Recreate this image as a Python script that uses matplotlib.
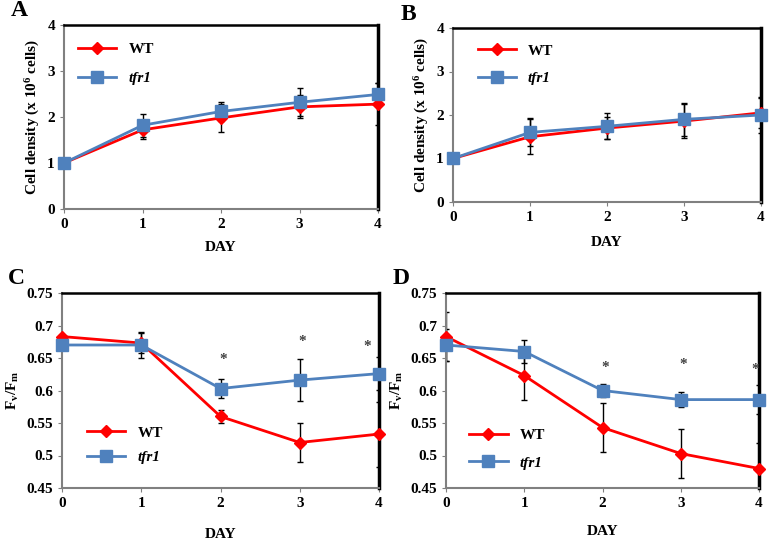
import matplotlib
matplotlib.use("Agg")
import matplotlib.pyplot as plt
import numpy as np

plt.rcParams['font.family'] = ['Liberation Serif', 'DejaVu Serif']
plt.rcParams['font.weight'] = 'bold'
plt.rcParams['axes.labelweight'] = 'bold'
plt.rcParams['mathtext.fontset'] = 'custom'
plt.rcParams['mathtext.rm'] = 'Liberation Serif:bold'
plt.rcParams['mathtext.it'] = 'Liberation Serif:italic:bold'
plt.rcParams['mathtext.bf'] = 'Liberation Serif:bold'

days = [0, 1, 2, 3, 4]

# panel A
a_wt = [1.0, 1.72, 1.98, 2.22, 2.28]
a_wt_err = [0.0, 0.2, 0.3, 0.25, 0.45]
a_tfr = [1.0, 1.82, 2.12, 2.32, 2.49]
a_tfr_err = [0.0, 0.25, 0.2, 0.3, 0.25]

# panel B
b_wt = [1.0, 1.5, 1.7, 1.86, 2.05]
b_wt_err = [0.0, 0.4, 0.25, 0.4, 0.35]
b_tfr = [1.0, 1.6, 1.74, 1.9, 2.0]
b_tfr_err = [0.0, 0.32, 0.3, 0.38, 0.42]

# panel C
c_wt = [0.683, 0.673, 0.56, 0.52, 0.533]
c_wt_err = [0.0, 0.016, 0.01, 0.03, 0.05]
c_tfr = [0.67, 0.67, 0.603, 0.616, 0.626]
c_tfr_err = [0.0, 0.02, 0.015, 0.032, 0.025]
c_star_x = [2.03, 3.03, 3.85]
c_star_y = [0.648, 0.675, 0.667]

# panel D
d_wt = [0.683, 0.623, 0.543, 0.503, 0.48]
d_wt_err = [0.038, 0.038, 0.038, 0.038, 0.04]
d_tfr = [0.67, 0.66, 0.6, 0.586, 0.586]
d_tfr_err = [0.025, 0.018, 0.01, 0.012, 0.022]
d_star_x = [2.03, 3.03, 3.95]
d_star_y = [0.635, 0.64, 0.632]

red = '#ff0000'
blue = '#4f81bd'

fig = plt.figure(figsize=(7.71, 5.40), dpi=100)
W, H = 771.0, 540.0

def mkax(l, r, t, b):
    return fig.add_axes([l / W, 1 - b / H, (r - l) / W, (b - t) / H])

axA = mkax(64, 378, 25, 209)
axB = mkax(453, 761, 28, 202)
axC = mkax(62, 379, 293, 488)
axD = mkax(446, 759, 293, 488)

def panel(ax, wt, wt_err, tfr, tfr_err, ylim, yticks, ylabel, leganchor, legspace, xpad, letter):
    ax.errorbar(days, wt, yerr=wt_err, fmt='none', ecolor='black', elinewidth=1, capsize=2.5, zorder=1)
    ax.errorbar(days, tfr, yerr=tfr_err, fmt='none', ecolor='black', elinewidth=1, capsize=2.5, zorder=1)
    ax.plot(days, wt, color=red, lw=2, marker='D', ms=6, mec=red, mfc=red, label='WT',
            zorder=3, clip_on=False)
    ax.plot(days, tfr, color=blue, lw=2, marker='s', ms=9, mec=blue, mfc=blue, label='tfr1',
            zorder=3, clip_on=False)
    ax.set_xlim(0, 4)
    ax.set_ylim(*ylim)
    ax.set_xticks(days)
    ax.set_yticks(yticks)
    ax.set_yticklabels([('%g' % v) for v in yticks])
    ax.tick_params(labelsize=11, length=3, color='#808080', direction='out')
    ax.spines['left'].set_color('#808080')
    ax.spines['bottom'].set_color('#808080')
    ax.spines['left'].set_linewidth(1.5)
    ax.spines['bottom'].set_linewidth(1.5)
    ax.spines['top'].set_linewidth(1.8)
    ax.spines['right'].set_linewidth(2.5)
    ax.set_xlabel('DAY', fontsize=11, labelpad=xpad)
    ax.set_ylabel(ylabel, fontsize=11)
    leg = ax.legend(loc='center left', bbox_to_anchor=leganchor, frameon=False, fontsize=11,
                    handlelength=2.5, labelspacing=legspace, borderaxespad=0)
    leg.get_texts()[1].set_style('italic')
    ax.text(-0.17, 1.02, letter, transform=ax.transAxes, fontsize=17, fontweight='bold',
            va='bottom', ha='left')

panel(axA, a_wt, a_wt_err, a_tfr, a_tfr_err, (0, 4), [0, 1, 2, 3, 4],
      'Cell density (x 10$^{6}$ cells)', (0.025, 0.79), 1.0, 7.5, 'A')
panel(axB, b_wt, b_wt_err, b_tfr, b_tfr_err, (0, 4), [0, 1, 2, 3, 4],
      'Cell density (x 10$^{6}$ cells)', (0.06, 0.79), 0.9, 8.5, 'B')
fticks = [0.45, 0.5, 0.55, 0.6, 0.65, 0.7, 0.75]
panel(axC, c_wt, c_wt_err, c_tfr, c_tfr_err, (0.45, 0.75), fticks,
      r'F$_{\mathrm{v}}$/F$_{\mathrm{m}}$', (0.06, 0.22), 0.7, 13, 'C')
panel(axD, d_wt, d_wt_err, d_tfr, d_tfr_err, (0.45, 0.75), fticks,
      r'F$_{\mathrm{v}}$/F$_{\mathrm{m}}$', (0.055, 0.2), 0.9, 11, 'D')

for x, y in zip(c_star_x, c_star_y):
    axC.text(x, y, '*', ha='center', va='center', fontsize=11, color='#404040')
for x, y in zip(d_star_x, d_star_y):
    axD.text(x, y, '*', ha='center', va='center', fontsize=11, color='#404040')

fig.savefig('out.png', dpi=100)
